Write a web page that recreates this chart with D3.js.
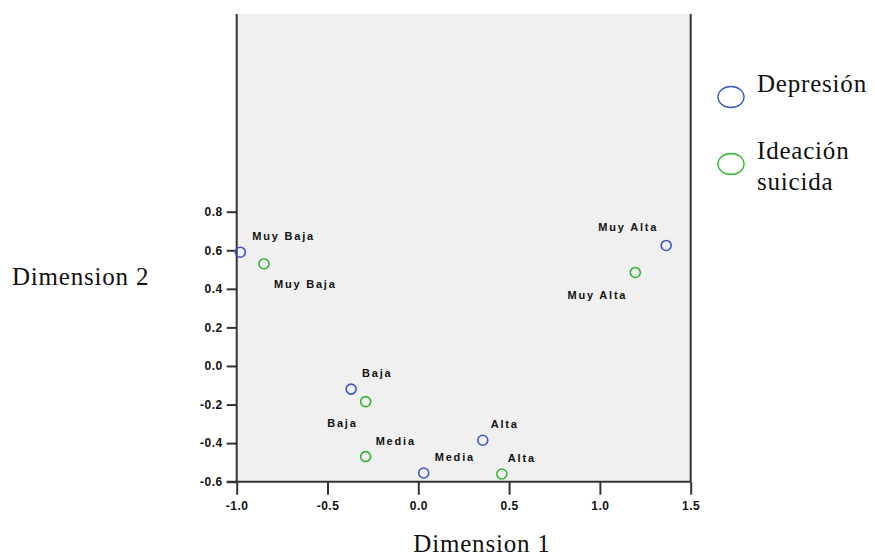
<!DOCTYPE html>
<html>
<head>
<meta charset="utf-8">
<script src="https://d3js.org/d3.v7.min.js"></script>
<style>
  body { margin: 0; background: #fff; }
  .tick text { font-family: "Liberation Sans", Arial, sans-serif; font-size: 12px; font-weight: bold; letter-spacing: 0.5px; fill: #111; }
  .lbl { font-family: "Liberation Sans", Arial, sans-serif; font-size: 11px; font-weight: bold; letter-spacing: 1.8px; fill: #111; }
  .title { font-family: "Liberation Serif", "Times New Roman", serif; fill: #111; letter-spacing: 0.8px; }
</style>
</head>
<body>
<div id="chart"></div>
<script>
  var w = 875, h = 560;

  // category quantifications
  var categories = ["Muy Baja", "Baja", "Media", "Alta", "Muy Alta"];
  var depDim1 = [-0.98, -0.37, 0.03, 0.355, 1.365];
  var depDim2 = [0.59, -0.12, -0.555, -0.385, 0.625];
  var ideDim1 = [-0.85, -0.29, -0.29, 0.46, 1.195];
  var ideDim2 = [0.53, -0.185, -0.47, -0.56, 0.485];
  var xTicks = [-1.0, -0.5, 0.0, 0.5, 1.0, 1.5];
  var yTicks = [-0.6, -0.4, -0.2, 0.0, 0.2, 0.4, 0.6, 0.8];
  var seriesNames = ["Depresión", "Ideación suicida"];
  var colors = ["#3b55c4", "#2fb52f"];

  // label placement (dx, dy, anchor) per series / category
  var labelPos = [
    [[12, -12, "start"], [11, -12, "start"], [11, -12, "start"], [8, -12, "start"], [-8, -14, "end"]],
    [[10, 24, "start"], [-8, 25, "end"], [10, -12, "start"], [6, -12, "start"], [-8, 27, "end"]]
  ];

  var series = [
    categories.map(function(c, i) { return { cat: c, x: depDim1[i], y: depDim2[i] }; }),
    categories.map(function(c, i) { return { cat: c, x: ideDim1[i], y: ideDim2[i] }; })
  ];

  var pLeft = 236.7, pRight = 690.7, pTop = 14, pBottom = 481.7;
  var x = d3.scaleLinear().domain([-1, 1.5]).range([pLeft, pRight]);
  var y = d3.scaleLinear().domain([-0.6, 1.825]).range([pBottom, pTop]);
  var fmt = function(d) { return d3.format(".1f")(d).replace("−", "-"); };

  var svg = d3.select("#chart").append("svg").attr("width", w).attr("height", h);

  svg.append("rect").attr("x", pLeft).attr("y", pTop)
    .attr("width", pRight - pLeft).attr("height", pBottom - pTop).attr("fill", "#f0f0f0");

  // frame: left and right sides only
  svg.append("line").attr("x1", pLeft).attr("x2", pLeft).attr("y1", pTop).attr("y2", pBottom)
    .attr("stroke", "#333").attr("stroke-width", 2);
  svg.append("line").attr("x1", pRight).attr("x2", pRight).attr("y1", pTop).attr("y2", pBottom)
    .attr("stroke", "#333").attr("stroke-width", 2);

  var xAxis = svg.append("g").attr("transform", "translate(0," + pBottom + ")")
    .call(d3.axisBottom(x).tickValues(xTicks).tickFormat(fmt).tickSize(13).tickPadding(7).tickSizeOuter(0));
  var yAxis = svg.append("g").attr("transform", "translate(" + pLeft + ",0)")
    .call(d3.axisLeft(y).tickValues(yTicks).tickFormat(fmt).tickSize(10).tickPadding(4).tickSizeOuter(0));
  yAxis.select(".domain").remove();
  [xAxis, yAxis].forEach(function(a) {
    a.selectAll(".domain").attr("stroke", "#333").attr("stroke-width", 2);
    a.selectAll(".tick line").attr("stroke", "#333").attr("stroke-width", 2);
  });
  xAxis.select(".domain").attr("d", "M" + (pLeft - 10) + ",0H" + pRight);

  series.forEach(function(s, si) {
    var g = svg.append("g");
    g.selectAll("circle").data(s).enter().append("circle")
      .attr("cx", function(d) { return x(d.x); })
      .attr("cy", function(d) { return y(d.y); })
      .attr("r", 5)
      .attr("fill", "none")
      .attr("stroke", colors[si])
      .attr("stroke-width", 1.6);
    g.selectAll("text").data(s).enter().append("text")
      .attr("class", "lbl")
      .attr("x", function(d, i) { return x(d.x) + labelPos[si][i][0]; })
      .attr("y", function(d, i) { return y(d.y) + labelPos[si][i][1]; })
      .attr("text-anchor", function(d, i) { return labelPos[si][i][2]; })
      .text(function(d) { return d.cat; });
  });

  // axis titles
  svg.append("text").attr("class", "title").attr("x", 482).attr("y", 552)
    .attr("text-anchor", "middle").style("font-size", "25px").text("Dimension 1");
  svg.append("text").attr("class", "title").attr("x", 12).attr("y", 285)
    .style("font-size", "25px").text("Dimension 2");

  // legend
  var legend = svg.append("g");
  var legendY = [97, 164];
  var legendLines = [["Depresión"], ["Ideación", "suicida"]];
  seriesNames.forEach(function(n, i) {
    legend.append("ellipse").attr("cx", 731).attr("cy", legendY[i])
      .attr("rx", 13).attr("ry", 10.5)
      .attr("fill", "none").attr("stroke", colors[i]).attr("stroke-width", 1.4);
    var t = legend.append("text").attr("class", "title").style("font-size", "25px")
      .attr("x", 757).attr("y", legendY[i] - 5);
    legendLines[i].forEach(function(line, j) {
      t.append("tspan").attr("x", 757).attr("dy", j === 0 ? 0 : 31).text(line);
    });
  });
</script>
</body>
</html>
